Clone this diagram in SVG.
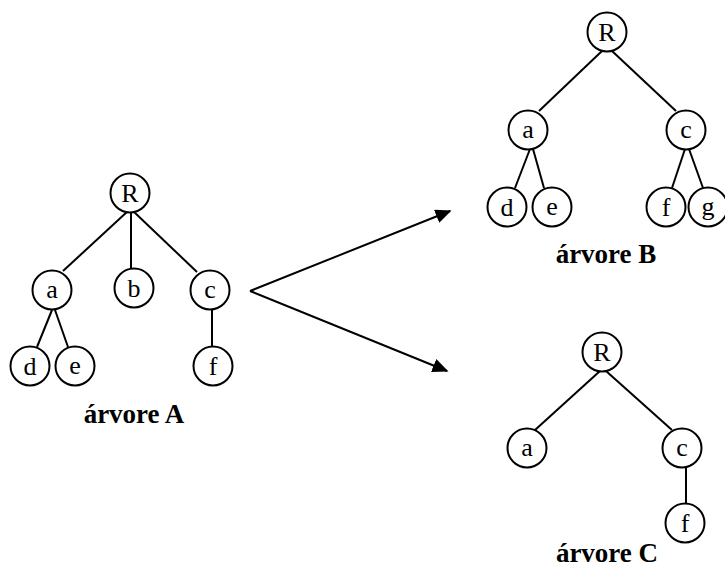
<svg xmlns="http://www.w3.org/2000/svg" width="725" height="569" viewBox="0 0 725 569" font-family="'Liberation Serif', 'Times New Roman', serif">
<style>
.n circle{fill:#fff;stroke:#000;stroke-width:2}
.n text{font-family:'Liberation Serif','Times New Roman',serif;font-size:26px;text-anchor:middle;fill:#000}
.t{font-family:'Liberation Serif','Times New Roman',serif;font-size:27px;font-weight:bold;text-anchor:middle;fill:#000}
.e line{stroke:#000;stroke-width:2}
</style>
<defs>
<marker id="ah" viewBox="0 0 10 10" refX="9" refY="5" markerWidth="8" markerHeight="7" markerUnits="strokeWidth" orient="auto" preserveAspectRatio="none">
<path d="M0,0 L10,5 L0,10 z" fill="#000"/>
</marker>
</defs>
<rect width="725" height="569" fill="#fff"/>
<g id="connectors" class="e">
<line x1="128" y1="211" x2="63" y2="271"/>
<line x1="131" y1="213" x2="131" y2="268"/>
<line x1="133" y1="211" x2="197" y2="272"/>
<line x1="52" y1="310" x2="37" y2="347"/>
<line x1="55" y1="310" x2="68" y2="347"/>
<line x1="212" y1="310" x2="212" y2="346"/>
<line x1="250" y1="291" x2="450" y2="211" marker-end="url(#ah)"/>
<line x1="250" y1="291" x2="447" y2="371" marker-end="url(#ah)"/>
<line x1="602" y1="51" x2="539" y2="111"/>
<line x1="612" y1="51" x2="676" y2="111"/>
<line x1="530" y1="149" x2="515" y2="188"/>
<line x1="533" y1="149" x2="544" y2="188"/>
<line x1="685" y1="149" x2="672" y2="188"/>
<line x1="689" y1="149" x2="703" y2="188"/>
<line x1="600" y1="371" x2="535" y2="430"/>
<line x1="606" y1="371" x2="672" y2="430"/>
<line x1="686" y1="468" x2="686" y2="503"/>
</g>
<g id="A_R" class="n"><circle cx="130" cy="193" r="19.5"/><text x="130" y="202">R</text></g>
<g id="A_a" class="n"><circle cx="52" cy="290" r="19.5"/><text x="52" y="298">a</text></g>
<g id="A_b" class="n"><circle cx="134" cy="288" r="19.5"/><text x="134" y="297">b</text></g>
<g id="A_c" class="n"><circle cx="210" cy="290" r="19.5"/><text x="210" y="298">c</text></g>
<g id="A_d" class="n"><circle cx="30" cy="366" r="19.5"/><text x="30" y="375">d</text></g>
<g id="A_e" class="n"><circle cx="75" cy="366" r="19.5"/><text x="75" y="374">e</text></g>
<g id="A_f" class="n"><circle cx="213" cy="366" r="19.5"/><text x="213" y="375">f</text></g>
<text class="t" x="134" y="423">árvore A</text>
<g id="B_R" class="n"><circle cx="607" cy="32" r="19.5"/><text x="607" y="41">R</text></g>
<g id="B_a" class="n"><circle cx="528" cy="130" r="19.5"/><text x="528" y="138">a</text></g>
<g id="B_c" class="n"><circle cx="686" cy="130" r="19.5"/><text x="686" y="138">c</text></g>
<g id="B_d" class="n"><circle cx="507" cy="207" r="19.5"/><text x="507" y="216">d</text></g>
<g id="B_e" class="n"><circle cx="552" cy="207" r="19.5"/><text x="552" y="215">e</text></g>
<g id="B_f" class="n"><circle cx="666" cy="207" r="19.5"/><text x="666" y="216">f</text></g>
<g id="B_g" class="n"><circle cx="708" cy="207" r="19.5"/><text x="708" y="215">g</text></g>
<text class="t" x="606" y="263">árvore B</text>
<g id="C_R" class="n"><circle cx="602" cy="352" r="19.5"/><text x="602" y="361">R</text></g>
<g id="C_a" class="n"><circle cx="527" cy="448" r="19.5"/><text x="527" y="456">a</text></g>
<g id="C_c" class="n"><circle cx="682" cy="448" r="19.5"/><text x="682" y="456">c</text></g>
<g id="C_f" class="n"><circle cx="685" cy="523" r="19.5"/><text x="685" y="532">f</text></g>
<text class="t" x="607" y="562">árvore C</text>
</svg>
